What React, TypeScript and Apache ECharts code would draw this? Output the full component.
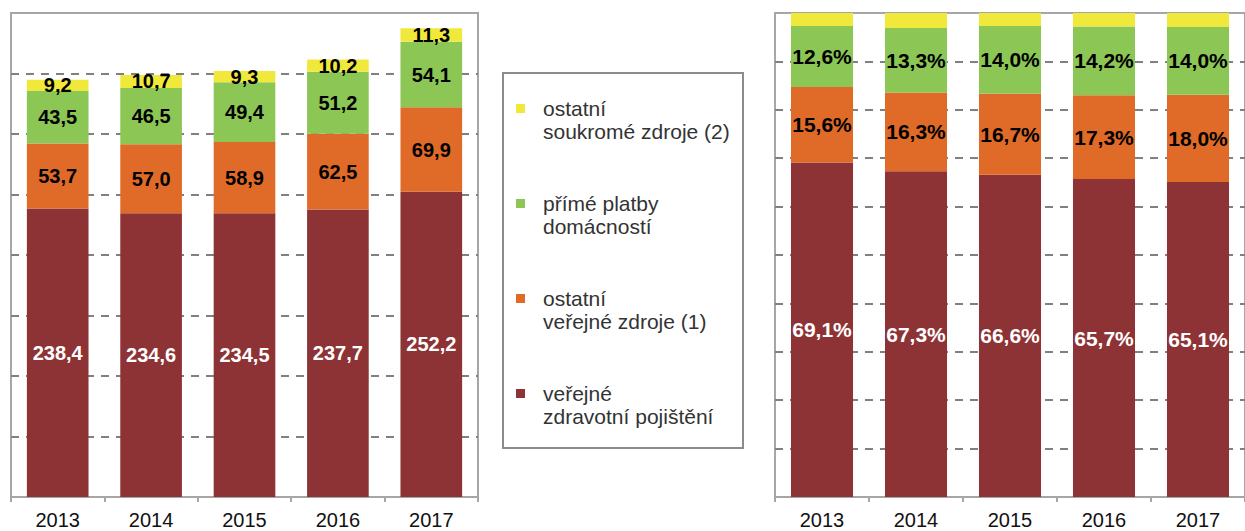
import React, { useEffect, useRef } from "react";
import * as echarts from "echarts";

const years = ["2013", "2014", "2015", "2016", "2017"];

// absolute values (left chart)
const insurance = [238.4, 234.6, 234.5, 237.7, 252.2];
const otherPublic = [53.7, 57.0, 58.9, 62.5, 69.9];
const households = [43.5, 46.5, 49.4, 51.2, 54.1];
const otherPrivate = [9.2, 10.7, 9.3, 10.2, 11.3];

// shares in % (right chart)
const insurancePct = [69.1, 67.3, 66.6, 65.7, 65.1];
const otherPublicPct = [15.6, 16.3, 16.7, 17.3, 18.0];
const householdsPct = [12.6, 13.3, 14.0, 14.2, 14.0];
const otherPrivatePct = [2.7, 3.1, 2.7, 2.8, 2.9];

const seriesNames = [
  "veřejné zdravotní pojištění",
  "ostatní veřejné zdroje (1)",
  "přímé platby domácností",
  "ostatní soukromé zdroje (2)",
];
const legendLabels = [
  "ostatní\nsoukromé zdroje (2)",
  "přímé platby\ndomácností",
  "ostatní\nveřejné zdroje (1)",
  "veřejné\nzdravotní pojištění",
];
const colors = ["#8E3335", "#E06A27", "#8CC655", "#F0E93B"];
const legendColors = ["#F0E93B", "#8CC655", "#E06A27", "#8E3335"];

const FONT = '"Liberation Sans", Arial, sans-serif';

export default function App() {
  const ref = useRef<HTMLDivElement>(null);
  useEffect(() => {
    document.body.style.margin = "0";
    const chart = echarts.init(ref.current!, null, { renderer: "svg" });

    const fmt = (suffix: string) => (p: any) =>
      Number(p.value).toFixed(1).replace(".", ",") + suffix;

    const makeSeries = (
      data: number[],
      idx: number,
      axis: number,
      suffix: string,
      size: number,
      showLabel: boolean
    ) => ({
      type: "bar",
      name: seriesNames[idx],
      xAxisIndex: axis,
      yAxisIndex: axis,
      stack: "s" + axis,
      data,
      barCategoryGap: "34%",
      itemStyle: { color: colors[idx] },
      label: {
        show: showLabel,
        position: "inside",
        formatter: fmt(suffix),
        color: idx === 0 ? "#ffffff" : "#000000",
        fontWeight: "bold",
        fontSize: size,
        fontFamily: FONT,
      },
    });

    const splitLine = {
      show: true,
      showMinLine: false,
      showMaxLine: false,
      lineStyle: { color: "#808080", width: 2, type: [8, 7] },
    };

    const xAxisCommon = {
      type: "category",
      data: years,
      axisLine: { show: true, lineStyle: { color: "#A6A6A6", width: 2 } },
      axisTick: { show: true, length: 5, lineStyle: { color: "#A6A6A6", width: 2 } },
      axisLabel: { color: "#111", fontSize: 20, fontFamily: FONT, margin: 13 },
    };

    const legendGraphics: any[] = [
      {
        type: "rect",
        shape: { x: 503, y: 73, width: 240, height: 375 },
        style: { fill: "#ffffff", stroke: "#8C8C8C", lineWidth: 2 },
      },
    ];
    legendLabels.forEach((name, i) => {
      legendGraphics.push({
        type: "rect",
        shape: { x: 516, y: 104 + 95 * i, width: 9, height: 9 },
        style: { fill: legendColors[i] },
      });
      legendGraphics.push({
        type: "text",
        x: 543,
        y: 97 + 95 * i,
        style: {
          text: name,
          font: "21px " + FONT,
          fill: "#333333",
          lineHeight: 23,
          textVerticalAlign: "top",
        },
      });
    });

    chart.setOption({
      animation: false,
      backgroundColor: "#ffffff",
      grid: [
        { left: 11, right: 767, top: 13, bottom: 34, show: true, borderColor: "#A6A6A6", borderWidth: 2, backgroundColor: "transparent" },
        { left: 775, right: -9, top: 13, bottom: 34, show: true, borderColor: "#A6A6A6", borderWidth: 2, backgroundColor: "transparent" },
      ],
      xAxis: [
        { ...xAxisCommon, gridIndex: 0 },
        { ...xAxisCommon, gridIndex: 1 },
      ],
      yAxis: [
        {
          type: "value",
          gridIndex: 0,
          min: 0,
          max: 400,
          interval: 50,
          axisLine: { show: false },
          axisTick: { show: false },
          axisLabel: { show: false },
          splitLine,
        },
        {
          type: "value",
          gridIndex: 1,
          min: 0,
          max: 100,
          interval: 10,
          axisLine: { show: false },
          axisTick: { show: false },
          axisLabel: { show: false },
          splitLine,
        },
      ],
      graphic: legendGraphics,
      series: [
        makeSeries(insurance, 0, 0, "", 20, true),
        makeSeries(otherPublic, 1, 0, "", 20, true),
        makeSeries(households, 2, 0, "", 20, true),
        makeSeries(otherPrivate, 3, 0, "", 20, true),
        makeSeries(insurancePct, 0, 1, "%", 21, true),
        makeSeries(otherPublicPct, 1, 1, "%", 21, true),
        makeSeries(householdsPct, 2, 1, "%", 21, true),
        makeSeries(otherPrivatePct, 3, 1, "%", 21, false),
      ],
    });
    return () => chart.dispose();
  }, []);
  return <div ref={ref} style={{ width: 1245, height: 531 }} />;
}
